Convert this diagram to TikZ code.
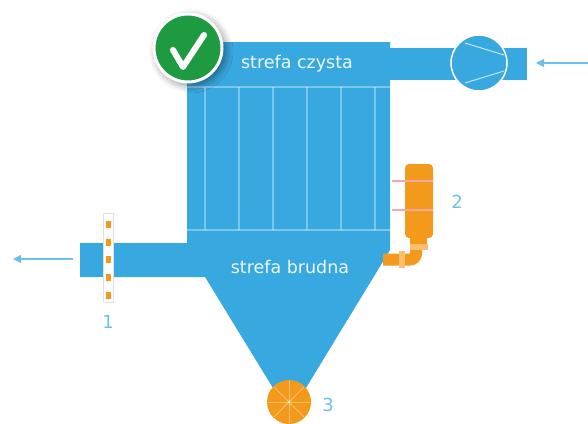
\documentclass[tikz,border=0pt]{standalone}
\usepackage{fontspec}
\setmainfont{DejaVu Sans}
\usetikzlibrary{arrows.meta,shadows.blur}
\definecolor{fblue}{HTML}{38A8E0}
\definecolor{fline}{HTML}{6CC0EA}
\definecolor{forange}{HTML}{F39A1C}
\definecolor{flight}{HTML}{F9BE6E}
\definecolor{fpink}{HTML}{F2A9A4}
\definecolor{fgreen}{HTML}{1E9A40}
\tikzset{
  grid/.style={white, opacity=0.35, line width=1.5pt},
  zone/.style={text=white!92!fblue, font=\fontsize{17.5}{17.5}\selectfont},
  num/.style={text=fline, font=\fontsize{18}{18}\selectfont},
  flow/.style={fline, line width=1.2pt, -{Triangle[length=8pt,width=8pt]}},
}
\begin{document}
\begin{tikzpicture}[x=1pt,y=-1pt]
\useasboundingbox (0,0) rectangle (588,423);

% housing, hopper and outlet pipe
\fill[fblue] (187,42) -- (390,42) -- (390,250) -- (289.5,415) -- (205,277)
  -- (80,277) -- (80,243) -- (187,243) -- cycle;
% clean-gas duct to the fan
\fill[fblue] (388,48) rectangle (527,80);

% filter bags
\draw[grid] (187,87) -- (390,87);
\draw[grid] (187,230) -- (390,230);
\foreach \x in {205,239,273,307,341,375}
  \draw[grid] (\x,87) -- (\x,230);

\node[zone] (clean) at (297,64) {strefa czysta};
\node[zone] (dirty) at (290,267) {strefa brudna};

% fan
\node[circle, fill=fblue, draw=white, line width=1.5pt, minimum size=56pt, inner sep=0pt] (fan) at (479,63) {};
\draw[white, opacity=0.7, line width=1pt] (465,43) -- (504,55);
\draw[white, opacity=0.7, line width=1pt] (465,83) -- (504,71);
\coordinate (inflow) at (588,63);
\coordinate (fanin) at (536,63);
\draw[flow] (inflow) -- (fanin);

% damper on the outlet pipe
\node[draw=black!12, fill=white, minimum width=10pt, minimum height=89pt, inner sep=0pt] (damper) at (108,257.5) {};
\foreach \y in {224,242,259,277,295}
  \fill[forange] (105.5,\y-3.5) rectangle (110.5,\y+3.5);
\coordinate (outleft) at (73,259);
\coordinate (outend) at (13,259);
\draw[flow] (outleft) -- (outend);
\node[num] (n1) at (108,322) {1};

% pulse-jet unit
\draw[forange, line width=12pt, rounded corners=6pt] (416,246) -- (416,259.5) -- (383,259.5);
\fill[flight] (399,251) rectangle (405,268);
\fill[forange] (410,236) rectangle (427,246);
\fill[flight] (410,244) rectangle (428,250);
\fill[forange, rounded corners=4pt] (405,164) rectangle (433,238);
\draw[fpink, line width=2pt] (392,181) -- (433,181);
\draw[fpink, line width=2pt] (392,210) -- (433,210);
\node[num] (n2) at (457,202) {2};

% rotary valve
\node[circle, fill=forange, minimum size=44pt, inner sep=0pt] (valve) at (289,402) {};
\foreach \a in {0,45,...,315}
  \draw[flight, line width=0.8pt] (valve.center) -- ++(\a:21pt);
\fill[white!70!flight] (valve.center) circle (1.5pt);
\node[num] (n3) at (328,405) {3};

% approval badge
\node[circle, fill=fgreen, draw=white, line width=3pt, minimum size=68pt, inner sep=0pt,
  blur shadow={shadow xshift=3pt, shadow yshift=-3pt, shadow blur radius=8pt, shadow opacity=50}] (badge) at (188,48) {};
\draw[white, line width=6pt, line cap=round, line join=round] (173,50) -- (183,67) -- (204,35);
\end{tikzpicture}
\end{document}
